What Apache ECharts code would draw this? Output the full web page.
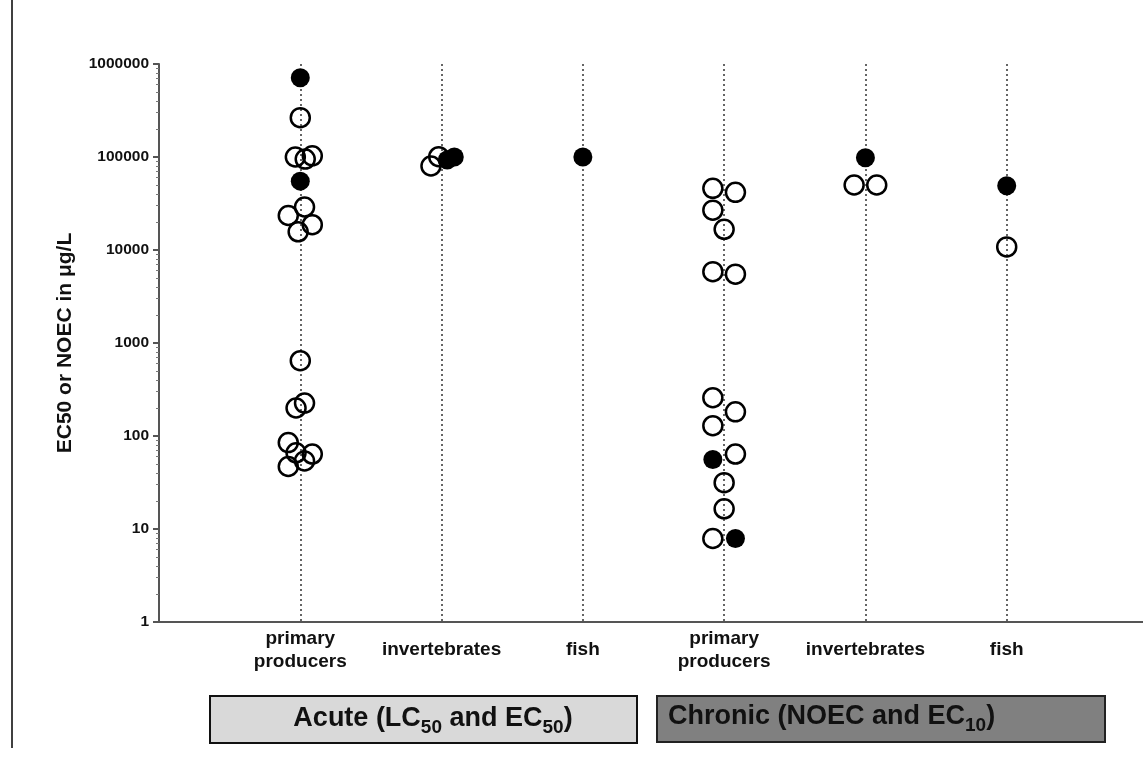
<!DOCTYPE html>
<html>
<head>
<meta charset="utf-8">
<script src="https://cdn.jsdelivr.net/npm/echarts@6/dist/echarts.min.js"></script>
<style>
html, body { margin: 0; padding: 0; background: #fff; overflow: hidden; }
/* a little wider than the window so the last (empty) grid line falls off-screen */
#chart { width: 1151px; height: 758px; }
</style>
</head>
<body>
<div id="chart"></div>
<script>
// groups along the x axis, placed at 1..6
const categories = ["primary\nproducers", "invertebrates", "fish", "primary\nproducers", "invertebrates", "fish"];
const yTicks = [1, 10, 100, 1000, 10000, 100000, 1000000];

// [group position incl. jitter as in the figure, value in µg/L]
const openPoints = [
  [1.0, 265000], [0.965, 100000], [1.035, 95000], [1.085, 103000],
  [1.03, 29000], [0.915, 23500], [1.085, 18700], [0.985, 15700],
  [1.0, 645], [1.03, 226], [0.97, 200],
  [0.915, 85], [0.97, 66], [1.085, 64], [1.03, 54], [0.915, 47],
  [1.925, 80000], [1.98, 100700],
  [3.92, 46000], [4.08, 41700], [3.92, 26800], [4.0, 16700], [3.92, 5850], [4.08, 5500],
  [3.92, 258], [4.08, 182], [3.92, 129], [4.08, 64], [4.0, 31.5], [4.0, 16.5], [3.92, 7.9],
  [4.92, 50000], [5.08, 50000],
  [6.0, 10800]
];
const filledPoints = [
  [1.0, 710000], [1.0, 55000],
  [2.04, 93000], [2.09, 100000],
  [3.0, 100000],
  [3.92, 56], [4.08, 7.9],
  [5.0, 98000],
  [6.0, 49000]
];

// minor log ticks 2..9 in each decade
const minorTicks = [];
for (let d = 1; d < 1000000; d *= 10) {
  for (let k = 2; k <= 9; k++) minorTicks.push(k * d);
}

const font = "'Liberation Sans', Arial, sans-serif";
const boxRich = {
  m: { fontFamily: font, fontWeight: "bold", fontSize: 27, lineHeight: 36, fill: "#111" },
  s: { fontFamily: font, fontWeight: "bold", fontSize: 19, lineHeight: 36, verticalAlign: "bottom", fill: "#111" }
};

const chart = echarts.init(document.getElementById("chart"));
chart.setOption({
  animation: false,
  grid: { left: 159, right: 0, top: 64, bottom: 136 },
  xAxis: {
    type: "value",
    min: 0,
    max: 7,
    interval: 1,
    axisLine: { lineStyle: { color: "#555", width: 2 } },
    axisTick: { show: false },
    splitLine: { show: true, lineStyle: { type: [2, 3], color: "#333", width: 1.5 } },
    axisLabel: {
      formatter: v => categories[v - 1] || "",
      verticalAlign: "middle",
      margin: 28,
      lineHeight: 23,
      fontFamily: font,
      fontWeight: "bold",
      fontSize: 19,
      color: "#111"
    }
  },
  yAxis: [
    {
      type: "log",
      logBase: 10,
      min: 1,
      max: 1000000,
      name: "EC50 or NOEC in μg/L",
      nameLocation: "middle",
      nameGap: 83,
      nameTextStyle: { fontFamily: font, fontWeight: "bold", fontSize: 21, color: "#111" },
      axisLine: { show: true, lineStyle: { color: "#555", width: 2 } },
      axisTick: { show: true, length: 6, customValues: yTicks, lineStyle: { color: "#555", width: 2 } },
      axisLabel: {
        customValues: yTicks,
        formatter: v => String(Math.round(v)),
        fontFamily: font,
        fontWeight: "bold",
        fontSize: 15.5,
        color: "#111",
        margin: 10
      },
      splitLine: { show: false }
    },
    {
      type: "log",
      logBase: 10,
      min: 1,
      max: 1000000,
      position: "left",
      axisLine: { show: false },
      axisTick: { show: true, length: 3, customValues: minorTicks, lineStyle: { color: "#777", width: 1 } },
      axisLabel: { show: false },
      splitLine: { show: false }
    }
  ],
  series: [
    {
      name: "open",
      type: "scatter",
      data: openPoints,
      symbol: "circle",
      symbolSize: 19,
      itemStyle: { color: "rgba(0,0,0,0)", borderColor: "#000", borderWidth: 2.5, opacity: 1 }
    },
    {
      name: "filled",
      type: "scatter",
      data: filledPoints,
      symbol: "circle",
      symbolSize: 19,
      itemStyle: { color: "#000", opacity: 1 }
    }
  ],
  graphic: [
    { type: "line", shape: { x1: 12, y1: 0, x2: 12, y2: 748 }, style: { stroke: "#000", lineWidth: 1.5 } },
    {
      type: "rect",
      shape: { x: 210, y: 696, width: 427, height: 47 },
      style: { fill: "#d9d9d9", stroke: "#111", lineWidth: 2 }
    },
    {
      type: "text",
      x: 433,
      y: 719,
      style: {
        text: "{m|Acute (LC}{s|50}{m| and EC}{s|50}{m|)}",
        align: "center",
        verticalAlign: "middle",
        rich: boxRich
      }
    },
    {
      type: "rect",
      shape: { x: 657, y: 696, width: 448, height: 46 },
      style: { fill: "#808080", stroke: "#222", lineWidth: 2 }
    },
    {
      type: "text",
      x: 668,
      y: 717,
      style: {
        text: "{m|Chronic (NOEC and EC}{s|10}{m|)}",
        align: "left",
        verticalAlign: "middle",
        rich: boxRich
      }
    }
  ]
});
</script>
</body>
</html>
